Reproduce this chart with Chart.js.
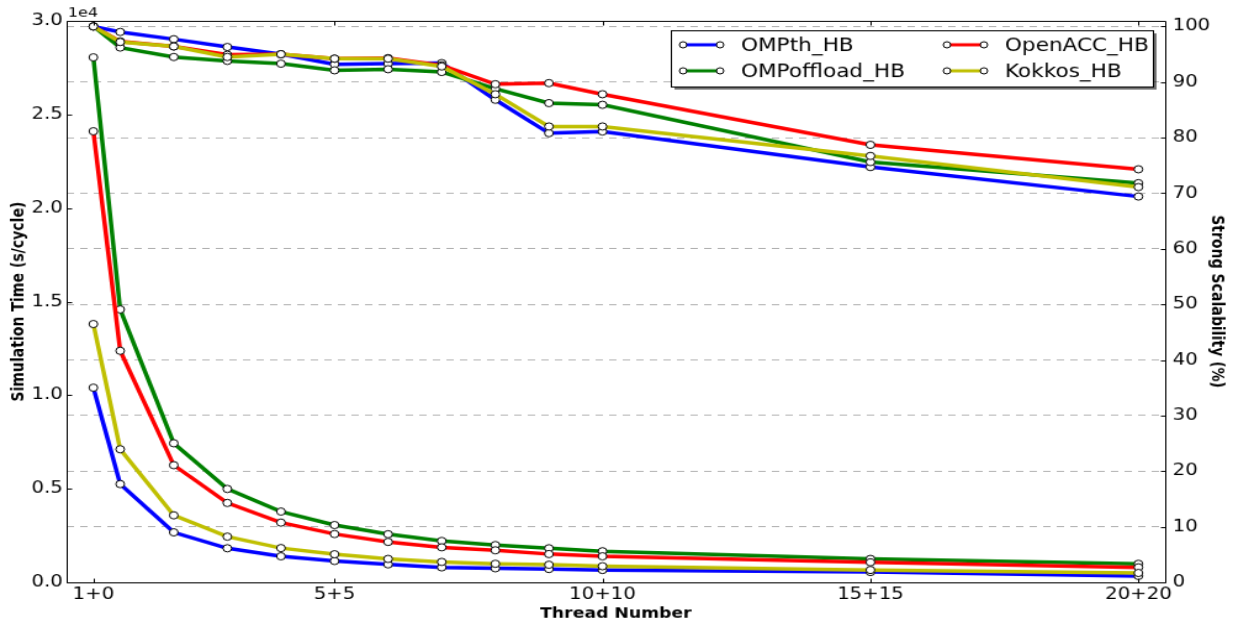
<!DOCTYPE html>
<html>
<head>
<meta charset="utf-8">
<script src="https://cdn.jsdelivr.net/npm/chart.js@4.4.1/dist/chart.umd.min.js"></script>
<style>
html { margin: 0; padding: 0; background: #fff; overflow: hidden; }
body { margin: 0; padding: 0; background: #fff; width: 1233px; height: 625px; }
#wrap { width: 1000px; height: 600px; transform: scale(1.233, 1.04167); transform-origin: 0 0; }
</style>
</head>
<body>
<div id="wrap"><canvas id="myChart" width="1000" height="600"></canvas></div>
<script>
const threads = [1, 2, 4, 6, 8, 10, 12, 14, 16, 18, 20, 30, 40];
const xTickValues = [1, 10, 20, 30, 40];
const xTickLabels = ['1+0', '5+5', '10+10', '15+15', '20+20'];
const seriesNames = ['OMPth_HB', 'OMPoffload_HB', 'OpenACC_HB', 'Kokkos_HB'];
const seriesColors = ['#0000ff', '#008000', '#ff0000', '#bfbf00'];

// simulation time (s/cycle)
const timeOMPth = [10400, 5250, 2670, 1820, 1390, 1140, 960, 800, 750, 710, 660, 550, 340];
const timeOMPoffload = [28050, 14580, 7430, 4990, 3780, 3060, 2570, 2210, 1990, 1820, 1660, 1250, 990];
const timeOpenACC = [24100, 12370, 6260, 4240, 3190, 2580, 2160, 1870, 1710, 1510, 1390, 1070, 800];
const timeKokkos = [13800, 7110, 3580, 2440, 1830, 1500, 1250, 1090, 990, 940, 860, 660, 500];

// strong scalability (%)
const scalOMPth = [100, 99.0, 97.7, 96.3, 95.0, 93.2, 93.3, 93.4, 86.8, 80.8, 81.1, 74.7, 69.4];
const scalOMPoffload = [100, 96.2, 94.5, 93.8, 93.3, 92.1, 92.3, 91.8, 88.8, 86.2, 85.9, 75.6, 71.8];
const scalOpenACC = [100, 97.3, 96.4, 94.9, 95.0, 94.2, 94.3, 93.0, 89.6, 89.8, 87.8, 78.7, 74.3];
const scalKokkos = [100, 97.2, 96.4, 94.5, 95.0, 94.2, 94.2, 92.8, 87.8, 82.0, 82.0, 76.7, 71.1];

const timeData = [timeOMPth, timeOMPoffload, timeOpenACC, timeKokkos];
const scalData = [scalOMPth, scalOMPoffload, scalOpenACC, scalKokkos];

Chart.defaults.font.family = '"DejaVu Sans"';
Chart.defaults.color = '#000';

const datasets = [];
seriesNames.forEach(function(name, i) {
  const common = {
    label: name,
    borderColor: seriesColors[i],
    backgroundColor: seriesColors[i],
    borderWidth: 3.5,
    pointRadius: 3.5,
    pointBorderWidth: 1,
    pointBorderColor: '#000',
    pointBackgroundColor: '#fff',
    tension: 0,
    fill: false,
    clip: false
  };
  datasets.push(Object.assign({}, common, {
    yAxisID: 'y',
    order: 8 - i,
    data: threads.map((t, j) => ({ x: t, y: timeData[i][j] }))
  }));
  datasets.push(Object.assign({}, common, {
    yAxisID: 'y2',
    order: 4 - i,
    data: threads.map((t, j) => ({ x: t, y: scalData[i][j] }))
  }));
});

// frame, inward tick marks and the 1e4 offset label
const frameTicks = {
  id: 'frameTicks',
  afterDraw(chart) {
    const ctx = chart.ctx;
    const a = chart.chartArea;
    const s = chart.scales;
    const L = Math.round(a.left) + 0.5, R = Math.round(a.right) + 0.5;
    const T = Math.round(a.top) + 0.5, B = Math.round(a.bottom) + 0.5;
    ctx.save();
    ctx.strokeStyle = '#000';
    ctx.lineWidth = 1;
    ctx.beginPath();
    ctx.rect(L, T, R - L, B - T);
    s.x.ticks.forEach(t => {
      const px = Math.round(s.x.getPixelForValue(t.value)) + 0.5;
      ctx.moveTo(px, B); ctx.lineTo(px, B - 4);
      ctx.moveTo(px, T); ctx.lineTo(px, T + 4);
    });
    s.y.ticks.forEach(t => {
      const py = Math.round(s.y.getPixelForValue(t.value)) + 0.5;
      ctx.moveTo(L, py); ctx.lineTo(L + 4, py);
    });
    s.y2.ticks.forEach(t => {
      const py = Math.round(s.y2.getPixelForValue(t.value)) + 0.5;
      ctx.moveTo(R, py); ctx.lineTo(R - 4, py);
    });
    ctx.stroke();
    ctx.fillStyle = '#000';
    ctx.font = '13px "DejaVu Sans"';
    ctx.textAlign = 'left';
    ctx.textBaseline = 'alphabetic';
    ctx.fillText('1e4', a.left + 1, a.top - 4);
    ctx.restore();
  }
};

const boxLegend = {
  id: 'boxLegend',
  afterDraw(chart) {
    const ctx = chart.ctx;
    const left = 544, top = 29, w = 391, h = 54;
    ctx.save();
    ctx.fillStyle = 'rgba(0,0,0,0.55)';
    ctx.fillRect(left + 3, top + 3, w, h);
    ctx.fillStyle = '#fff';
    ctx.fillRect(left, top, w, h);
    ctx.strokeStyle = '#000';
    ctx.lineWidth = 1;
    ctx.strokeRect(left + 0.5, top + 0.5, w, h);
    const cols = [554, 768];
    const rows = [43, 68];
    ctx.font = '17.5px "DejaVu Sans"';
    ctx.textBaseline = 'middle';
    ctx.textAlign = 'left';
    seriesNames.forEach(function(name, i) {
      const cx = cols[Math.floor(i / 2)];
      const cy = rows[i % 2];
      ctx.strokeStyle = seriesColors[i];
      ctx.lineWidth = 3;
      ctx.beginPath();
      ctx.moveTo(cx, cy); ctx.lineTo(cx + 30, cy);
      ctx.stroke();
      ctx.strokeStyle = '#000';
      ctx.lineWidth = 1;
      ctx.fillStyle = '#fff';
      [cx, cx + 30].forEach(function(px) {
        ctx.beginPath();
        ctx.arc(px, cy, 3, 0, Math.PI * 2);
        ctx.fill();
        ctx.stroke();
      });
      ctx.fillStyle = '#000';
      ctx.fillText(name, cx + 47, cy + 1);
    });
    ctx.restore();
  }
};

const ctx = document.getElementById('myChart').getContext('2d');
const myChart = new Chart(ctx, {
  type: 'line',
  data: { datasets: datasets },
  plugins: [frameTicks, boxLegend],
  options: {
    responsive: false,
    animation: false,
    layout: { padding: { top: 20, left: 0, right: 0, bottom: 0 } },
    plugins: { legend: { display: false }, tooltip: { enabled: false } },
    scales: {
      x: {
        type: 'linear',
        min: 0,
        max: 41,
        afterBuildTicks: function(scale) {
          scale.ticks = xTickValues.map(v => ({ value: v }));
        },
        afterFit: function(scale) { scale.height = 41; },
        ticks: {
          autoSkip: false,
          maxRotation: 0,
          padding: 2,
          font: { size: 16 },
          callback: function(value, index) { return xTickLabels[index]; }
        },
        grid: { display: false, drawTicks: false },
        border: { display: false },
        title: {
          display: true,
          text: 'Thread Number',
          font: { size: 14, weight: 'bold' },
          padding: { top: 0, bottom: 2.6 }
        }
      },
      y: {
        position: 'left',
        min: 0,
        max: 30000,
        afterFit: function(scale) { scale.width = 54; },
        ticks: {
          stepSize: 5000,
          padding: 3,
          font: { size: 16 },
          callback: function(value) { return (value / 10000).toFixed(1); }
        },
        grid: { display: false, drawTicks: false },
        border: { display: false },
        title: {
          display: true,
          text: 'Simulation Time (s/cycle)',
          font: { size: 13.5, weight: 'bold' },
          padding: { top: 7, bottom: 0 }
        }
      },
      y2: {
        position: 'right',
        min: 0,
        max: 101,
        afterFit: function(scale) { scale.width = 55; },
        afterBuildTicks: function(scale) {
          scale.ticks = scale.ticks.filter(t => t.value <= 100);
        },
        ticks: {
          stepSize: 10,
          includeBounds: false,
          padding: 6,
          font: { size: 16 }
        },
        grid: {
          display: true,
          drawOnChartArea: true,
          drawTicks: false,
          color: '#b0b0b0',
          lineWidth: 1
        },
        border: { display: false, dash: [6, 5] },
        title: {
          display: true,
          text: 'Strong Scalability (%)',
          font: { size: 13.5, weight: 'bold' },
          padding: { top: 5, bottom: 0 }
        }
      }
    }
  }
});
</script>
</body>
</html>
